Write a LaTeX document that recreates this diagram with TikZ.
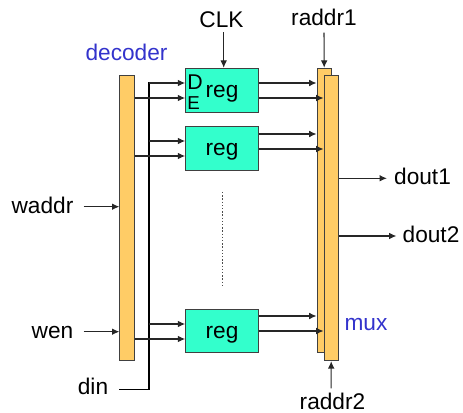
\documentclass[tikz,border=0pt]{standalone}
\usepackage{fontspec}
\setmainfont{Liberation Sans}
\usetikzlibrary{arrows.meta,calc}
\definecolor{barorange}{HTML}{FFCC66}
\definecolor{regteal}{HTML}{33FFCC}
\definecolor{labelblue}{HTML}{3333CC}
\tikzset{
  bar/.style={draw=black!75,line width=0.8pt,fill=barorange,inner sep=0pt,minimum width=10.7pt},
  regbox/.style={draw=black!75,line width=0.8pt,fill=regteal,inner sep=0pt,minimum width=54.5pt,minimum height=32.8pt,text height=13pt,text depth=1.8pt,font=\fontsize{17}{17}\selectfont},
  lbl/.style={inner sep=0pt,text height=13pt,text depth=3.2pt,font=\fontsize{17}{17}\selectfont},
  portlbl/.style={inner sep=0pt},
  wire/.style={line width=0.8pt,black!85,-{Latex[length=5.5pt,width=5pt]}},
  buswire/.style={line width=1.4pt,black},
}
\begin{document}
\begin{tikzpicture}[x=0.75pt,y=-0.75pt]
\useasboundingbox (0,0) rectangle (463,413);
% bars
\node[bar,minimum height=213.7pt] (decoder) at (127,218.2) {};
\node[bar,minimum height=213.5pt] (muxa) at (324.2,210.6) {};
\node[bar,minimum height=213.5pt] (muxb) at (331.2,218.3) {};
% registers
\node[regbox] (rega) at (222,90.2) {reg};
\node[regbox] (regb) at (222,148.4) {reg};
\node[regbox] (regc) at (222,331) {reg};
\node[portlbl,font=\fontsize{16}{16}\selectfont] (dport) at (195,82) {D};
\node[portlbl,font=\fontsize{14}{14}\selectfont] (eport) at (193.5,103) {E};
% labels
\node[lbl,labelblue] (declabel) at (126.5,53.5) {decoder};
\node[lbl,labelblue] (muxlabel) at (366,324.2) {mux};
\node[lbl] (clk) at (221.5,21) {CLK};
\node[lbl] (raddra) at (324,18.5) {raddr1};
\node[lbl] (raddrb) at (332.5,402.5) {raddr2};
\node[lbl] (douta) at (422.5,178.3) {dout1};
\node[lbl] (doutb) at (431,236) {dout2};
\node[lbl] (waddr) at (42.5,206.7) {waddr};
\node[lbl] (wen) at (52.5,331.7) {wen};
\node[lbl] (din) at (93,387.5) {din};
\coordinate (bus) at (149,389.5);
% data bus
\draw[buswire] ($(din.east)+(11,2)$) -- (bus) -- (bus |- 0,82.5);
% register wires
\foreach \r/\ia/\ib/\oa/\ob in {rega/-7.2/7.8/-7.2/7.8,regb/-7.4/7.6/-14.4/0.6,regc/-7/8/-15/0}{
  \draw[wire] (bus |- {$(\r.west)+(0,\ia)$}) -- ($(\r.west)+(0,\ia)$);
  \draw[wire] (decoder.east |- {$(\r.west)+(0,\ib)$}) -- ($(\r.west)+(0,\ib)$);
  \draw[wire] ($(\r.east)+(0,\oa)$) -- (muxa.west |- {$(\r.east)+(0,\oa)$});
  \draw[wire] ($(\r.east)+(0,\ob)$) -- (muxb.west |- {$(\r.east)+(0,\ob)$});
}
% control and outputs
\draw[wire] ($(clk.south)+(2.2,0)$) -- ($(rega.north)+(1.7,0)$);
\draw[wire] ($(raddra.south)+(0,3)$) -- (muxa.north);
\draw[wire] ($(raddrb.north)+(-1.3,-3)$) -- (muxb.south);
\draw[wire] (muxb.east |- douta) -- ($(douta.west)+(-7,0)$);
\draw[wire] (muxb.east |- doutb) -- ($(doutb.west)+(-6,0)$);
\draw[wire] ($(waddr.east)+(10,0)$) -- (decoder.west |- waddr);
\draw[wire] ($(wen.east)+(10,0)$) -- (decoder.west |- wen);
% gap between registers
\coordinate (gapa) at (222,192);
\coordinate (gapb) at (222,286);
\draw[line width=0.7pt,black!70,dash pattern=on 1pt off 1.4pt] (gapa) -- (gapb);
\end{tikzpicture}
\end{document}
